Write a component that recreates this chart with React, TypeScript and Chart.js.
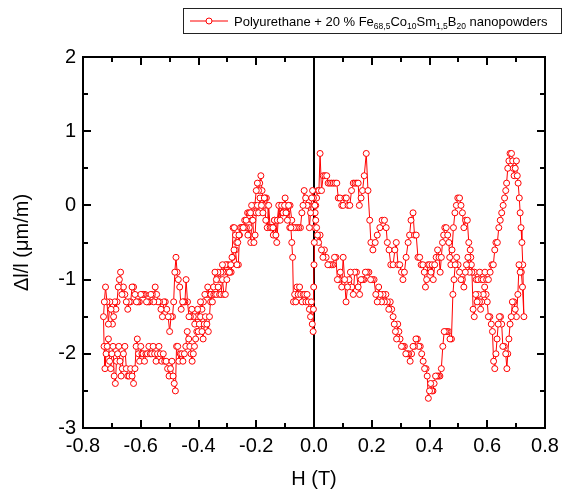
import React, { useEffect, useRef } from "react";
import { Chart, registerables } from "chart.js";

Chart.register(...registerables);

// Magnetostriction loop, field H (T) vs. strain Δl/l (µm/m).
// Each branch is a list of [H, Δl/l] readings in measurement order.
const branchUpperRight: [number, number][] = [
  [0.002, -0.3], [0.004, -0.1], [0.006, 0.0], [0.009, 0.1], [0.013, 0.2], [0.017, 0.2], [0.021, 0.7],
  [0.026, 0.2], [0.032, 0.4], [0.038, 0.4], [0.044, 0.4], [0.049, 0.3], [0.055, 0.3], [0.061, 0.3],
  [0.067, 0.3], [0.073, 0.3], [0.079, 0.3], [0.084, 0.1], [0.09, 0.1], [0.096, 0.0], [0.101, 0.0],
  [0.107, 0.1], [0.112, 0.1], [0.118, 0.0], [0.124, 0.0], [0.13, 0.2], [0.136, 0.3], [0.142, 0.3],
  [0.148, 0.3], [0.153, 0.3], [0.157, 0.0], [0.163, 0.1], [0.168, 0.2], [0.174, 0.4], [0.181, 0.7],
  [0.187, 0.2], [0.193, -0.2], [0.197, -0.5], [0.204, -0.6], [0.212, -0.5], [0.219, -0.4], [0.228, -0.3],
  [0.236, -0.2], [0.244, -0.2], [0.25, -0.3], [0.254, -0.5], [0.26, -0.6], [0.266, -0.8], [0.274, -0.8],
  [0.28, -0.6], [0.285, -0.5], [0.291, -0.8], [0.297, -0.8], [0.303, -0.9], [0.308, -1.0], [0.313, -0.9],
  [0.319, -0.7], [0.326, -0.5], [0.331, -0.4], [0.336, -0.2], [0.343, -0.1], [0.348, -0.4], [0.354, -0.4],
  [0.36, -0.7], [0.366, -0.7], [0.371, -0.8], [0.377, -0.8], [0.382, -0.9], [0.386, -1.1], [0.39, -1.0],
  [0.395, -0.8], [0.4, -0.8], [0.405, -0.9], [0.409, -0.8], [0.413, -1.0], [0.418, -0.8], [0.423, -0.7],
  [0.428, -0.6], [0.433, -0.7], [0.437, -0.9], [0.441, -0.7], [0.445, -0.5], [0.449, -0.4], [0.453, -0.3],
  [0.458, -0.3], [0.463, -0.4], [0.467, -0.5], [0.47, -0.7], [0.474, -0.8], [0.478, -0.6], [0.483, -0.3],
  [0.488, -0.1], [0.493, 0.0], [0.498, 0.1], [0.504, 0.1], [0.509, 0.0], [0.514, -0.1], [0.519, -0.3],
  [0.525, -0.2], [0.531, -0.2], [0.536, -0.5], [0.541, -0.6], [0.545, -0.8], [0.55, -0.9], [0.556, -0.9],
  [0.562, -1.0], [0.568, -1.0], [0.574, -0.9], [0.58, -1.0], [0.586, -1.0], [0.592, -0.9], [0.598, -1.0],
  [0.604, -1.0], [0.61, -0.9], [0.616, -0.8], [0.621, -0.8], [0.626, -0.6], [0.63, -0.5], [0.635, -0.5],
  [0.64, -0.3], [0.645, -0.2], [0.65, -0.1], [0.655, 0.0], [0.66, 0.1], [0.664, 0.2], [0.667, 0.3],
  [0.671, 0.5], [0.675, 0.6], [0.679, 0.7], [0.684, 0.7], [0.688, 0.6], [0.69, 0.5], [0.693, 0.4],
  [0.697, 0.5], [0.701, 0.6], [0.704, 0.4], [0.707, 0.3], [0.711, 0.1], [0.714, -0.1], [0.717, -0.3],
  [0.72, -0.5], [0.723, -0.8], [0.727, -1.5],
];

const branchLowerRight: [number, number][] = [
  [0.722, -1.1], [0.718, -0.9], [0.714, -0.9], [0.71, -0.8], [0.706, -1.2], [0.701, -1.5], [0.697, -1.4],
  [0.692, -1.3], [0.687, -1.3], [0.683, -1.5], [0.679, -1.6], [0.675, -1.8], [0.671, -2.0], [0.668, -2.2],
  [0.664, -2.0], [0.659, -1.9], [0.654, -1.9], [0.65, -1.6], [0.646, -1.5], [0.642, -1.5], [0.638, -1.6],
  [0.634, -1.8], [0.63, -2.0], [0.626, -2.2], [0.622, -2.1], [0.618, -1.7], [0.614, -1.6], [0.609, -1.5],
  [0.604, -1.5], [0.6, -1.3], [0.596, -1.2], [0.591, -1.1], [0.586, -1.2], [0.581, -1.3], [0.577, -1.4],
  [0.573, -1.3], [0.569, -1.2], [0.565, -1.3], [0.56, -1.2], [0.555, -1.5], [0.551, -1.4], [0.547, -0.9],
  [0.543, -0.7], [0.538, -0.9], [0.533, -0.7], [0.528, -0.8], [0.524, -0.9], [0.519, -1.1], [0.514, -1.0],
  [0.509, -1.0], [0.504, -0.9], [0.499, -0.8], [0.494, -0.7], [0.489, -0.8], [0.485, -1.0], [0.481, -1.2],
  [0.476, -1.8], [0.471, -1.8], [0.466, -1.7], [0.461, -1.7], [0.456, -1.7], [0.451, -1.7], [0.446, -1.9],
  [0.441, -2.2], [0.436, -2.3], [0.431, -2.3], [0.426, -2.3], [0.421, -2.3], [0.416, -2.4], [0.412, -2.5],
  [0.408, -2.5], [0.404, -2.4], [0.4, -2.5], [0.396, -2.6], [0.392, -2.3], [0.388, -2.2], [0.383, -2.2],
  [0.378, -2.1], [0.373, -2.0], [0.368, -1.9], [0.363, -1.9], [0.358, -1.8], [0.353, -1.8], [0.348, -1.9],
  [0.343, -1.9], [0.338, -2.0], [0.333, -2.1], [0.328, -2.0], [0.323, -2.0], [0.318, -2.0], [0.313, -1.9],
  [0.308, -1.9], [0.303, -1.9], [0.298, -1.8], [0.294, -1.7], [0.29, -1.6], [0.286, -1.8], [0.282, -1.7],
  [0.278, -1.6], [0.274, -1.5], [0.269, -1.4], [0.264, -1.3], [0.259, -1.4], [0.254, -1.3], [0.249, -1.2],
  [0.244, -1.3], [0.239, -1.2], [0.234, -1.3], [0.229, -1.2], [0.224, -1.1], [0.219, -1.3], [0.214, -1.2],
  [0.208, -1.0], [0.202, -1.0], [0.196, -1.0], [0.19, -0.9], [0.184, -0.9], [0.178, -0.9], [0.173, -1.0],
  [0.168, -1.0], [0.163, -1.0], [0.158, -1.2], [0.153, -1.1], [0.147, -0.9], [0.141, -0.9], [0.136, -1.2],
  [0.131, -1.1], [0.126, -0.9], [0.121, -1.0], [0.116, -1.1], [0.111, -1.3], [0.106, -1.0], [0.101, -0.7],
  [0.096, -1.1], [0.091, -0.9], [0.086, -1.0], [0.081, -1.0], [0.076, -0.7], [0.071, -0.7], [0.066, -0.8],
  [0.06, -0.8], [0.054, -0.8], [0.048, -0.8], [0.042, -0.7], [0.036, -0.6], [0.031, -0.7], [0.026, -0.6],
  [0.021, -0.4], [0.016, -0.5], [0.012, -0.4], [0.009, -0.3], [0.006, -0.2], [0.003, 0.0],
];

const branchUpperLeft: [number, number][] = [
  [-0.002, 0.1], [-0.005, 0.2], [-0.008, 0.1], [-0.012, -0.1], [-0.016, -0.3], [-0.02, 0.0], [-0.024, 0.0],
  [-0.029, 0.1], [-0.034, 0.2], [-0.038, 0.0], [-0.042, -0.1], [-0.047, -0.3], [-0.053, -0.3], [-0.059, -0.3],
  [-0.065, -0.3], [-0.071, -0.3], [-0.077, -0.2], [-0.083, 0.0], [-0.089, 0.0], [-0.094, -0.1], [-0.1, 0.1],
  [-0.105, 0.0], [-0.11, -0.1], [-0.115, 0.0], [-0.12, 0.0], [-0.124, -0.2], [-0.129, -0.5], [-0.133, -0.4],
  [-0.137, -0.2], [-0.141, -0.4], [-0.146, -0.3], [-0.151, -0.3], [-0.156, -0.3], [-0.16, 0.0], [-0.165, 0.1],
  [-0.17, 0.1], [-0.175, 0.0], [-0.18, 0.2], [-0.184, 0.4], [-0.188, 0.3], [-0.192, 0.2], [-0.196, 0.3],
  [-0.2, 0.2], [-0.205, 0.0], [-0.21, -0.1], [-0.215, -0.2], [-0.219, -0.5], [-0.224, -0.3], [-0.229, -0.4],
  [-0.234, -0.3], [-0.24, -0.3], [-0.246, -0.3], [-0.252, -0.3], [-0.258, -0.4], [-0.262, -0.8], [-0.267, -0.8],
  [-0.272, -0.6], [-0.277, -0.6], [-0.282, -0.7], [-0.287, -0.9], [-0.292, -0.9], [-0.297, -0.8], [-0.302, -0.8],
  [-0.307, -0.8], [-0.312, -0.9], [-0.317, -0.8], [-0.322, -0.9], [-0.327, -1.0], [-0.333, -0.9], [-0.338, -1.0],
  [-0.343, -0.9], [-0.348, -1.1], [-0.353, -1.2], [-0.358, -1.3], [-0.363, -1.2], [-0.368, -1.1], [-0.373, -1.2],
  [-0.378, -1.2], [-0.383, -1.3], [-0.388, -1.4], [-0.393, -1.3], [-0.398, -1.5], [-0.403, -1.4], [-0.408, -1.5],
  [-0.413, -1.6], [-0.418, -1.5], [-0.423, -1.4], [-0.428, -1.5], [-0.433, -1.5], [-0.438, -1.3], [-0.443, -1.0],
  [-0.447, -1.3], [-0.451, -1.3], [-0.455, -1.3], [-0.46, -1.4], [-0.465, -1.1], [-0.47, -1.0], [-0.474, -0.9],
  [-0.478, -0.7], [-0.482, -0.9], [-0.486, -1.3], [-0.49, -1.5], [-0.495, -1.5], [-0.5, -1.7], [-0.505, -1.5],
  [-0.51, -1.4], [-0.515, -1.3], [-0.52, -1.3], [-0.525, -1.5], [-0.53, -1.4], [-0.535, -1.3], [-0.54, -1.3],
  [-0.545, -1.2], [-0.55, -1.1], [-0.555, -1.3], [-0.56, -1.2], [-0.565, -1.2], [-0.57, -1.3], [-0.575, -1.3],
  [-0.58, -1.3], [-0.585, -1.2], [-0.59, -1.2], [-0.595, -1.2], [-0.6, -1.2], [-0.605, -1.3], [-0.61, -1.3],
  [-0.615, -1.3], [-0.62, -1.2], [-0.625, -1.1], [-0.63, -1.1], [-0.635, -1.3], [-0.64, -1.3], [-0.645, -1.4],
  [-0.65, -1.3], [-0.655, -1.2], [-0.66, -1.1], [-0.665, -1.2], [-0.67, -0.9], [-0.674, -1.0], [-0.678, -1.1],
  [-0.682, -1.3], [-0.686, -1.4], [-0.69, -1.3], [-0.694, -1.5], [-0.698, -1.6], [-0.703, -1.4], [-0.707, -1.3],
  [-0.712, -1.6], [-0.717, -1.3], [-0.722, -1.1], [-0.726, -1.3], [-0.729, -1.5],
];

const branchLowerLeft: [number, number][] = [
  [-0.727, -1.9], [-0.724, -2.2], [-0.72, -2.0], [-0.716, -1.9], [-0.712, -1.8], [-0.708, -2.1], [-0.704, -2.2],
  [-0.7, -2.0], [-0.696, -1.9], [-0.692, -2.3], [-0.688, -2.4], [-0.684, -2.1], [-0.68, -2.0], [-0.676, -1.9],
  [-0.672, -2.1], [-0.668, -2.3], [-0.664, -2.2], [-0.66, -2.0], [-0.655, -1.9], [-0.65, -2.2], [-0.645, -2.3],
  [-0.64, -2.3], [-0.635, -2.2], [-0.63, -2.3], [-0.625, -2.4], [-0.62, -2.2], [-0.616, -1.9], [-0.612, -1.8],
  [-0.608, -2.0], [-0.604, -2.1], [-0.6, -1.9], [-0.596, -2.0], [-0.592, -2.0], [-0.587, -2.1], [-0.582, -2.0],
  [-0.577, -2.0], [-0.572, -1.9], [-0.567, -2.0], [-0.562, -2.0], [-0.557, -1.9], [-0.552, -2.0], [-0.547, -2.1],
  [-0.542, -2.0], [-0.537, -1.9], [-0.532, -2.0], [-0.527, -2.1], [-0.522, -2.0], [-0.517, -2.1], [-0.512, -2.1],
  [-0.507, -2.2], [-0.502, -2.3], [-0.497, -2.2], [-0.492, -2.1], [-0.488, -2.3], [-0.484, -2.4], [-0.48, -2.5],
  [-0.476, -1.9], [-0.472, -1.9], [-0.468, -2.1], [-0.463, -2.0], [-0.458, -2.0], [-0.454, -2.1], [-0.449, -2.0],
  [-0.444, -1.9], [-0.439, -1.7], [-0.434, -1.8], [-0.43, -1.9], [-0.426, -2.0], [-0.422, -2.1], [-0.418, -2.0],
  [-0.414, -1.9], [-0.41, -1.8], [-0.406, -1.7], [-0.401, -1.7], [-0.397, -1.6], [-0.393, -1.5], [-0.388, -1.7],
  [-0.384, -1.8], [-0.38, -1.6], [-0.376, -1.5], [-0.371, -1.6], [-0.366, -1.7], [-0.362, -1.5], [-0.357, -1.2],
  [-0.352, -1.3], [-0.347, -1.2], [-0.342, -1.2], [-0.337, -1.2], [-0.332, -1.1], [-0.327, -1.2], [-0.322, -1.2],
  [-0.317, -1.0], [-0.312, -1.2], [-0.307, -1.2], [-0.302, -1.0], [-0.298, -0.9], [-0.293, -0.9], [-0.288, -0.8],
  [-0.284, -0.7], [-0.28, -0.3], [-0.276, -0.3], [-0.272, -0.4], [-0.268, -0.5], [-0.264, -0.5], [-0.26, -0.4],
  [-0.255, -0.3], [-0.25, -0.3], [-0.245, -0.3], [-0.24, -0.2], [-0.235, -0.2], [-0.23, -0.1], [-0.225, -0.1],
  [-0.22, -0.1], [-0.216, 0.0], [-0.212, -0.2], [-0.208, -0.5], [-0.204, -0.4], [-0.2, -0.1], [-0.196, 0.0],
  [-0.192, -0.1], [-0.187, 0.1], [-0.182, 0.0], [-0.177, -0.1], [-0.172, 0.1], [-0.167, -0.2], [-0.162, -0.3],
  [-0.157, 0.0], [-0.152, -0.3], [-0.147, -0.3], [-0.142, -0.3], [-0.137, -0.2], [-0.132, -0.4], [-0.127, -0.2],
  [-0.122, 0.0], [-0.117, -0.2], [-0.112, 0.0], [-0.107, -0.1], [-0.102, 0.0], [-0.097, -0.1], [-0.092, -0.2],
  [-0.088, 0.0], [-0.084, -0.3], [-0.08, -0.3], [-0.077, -0.5], [-0.074, -0.7], [-0.071, -1.3], [-0.067, -1.2],
  [-0.063, -1.3], [-0.059, -1.1], [-0.055, -1.2], [-0.05, -1.1], [-0.046, -1.2], [-0.041, -1.3], [-0.037, -1.2],
  [-0.032, -1.2], [-0.028, -1.3], [-0.024, -1.2], [-0.02, -1.3], [-0.016, -1.4], [-0.012, -1.5], [-0.009, -1.3],
  [-0.006, -1.6], [-0.003, -1.7], [-0.002, -1.4], [-0.001, -1.1], [0.0, -0.8], [0.001, -0.5],
];

const xMajorTicks = [-0.8, -0.6, -0.4, -0.2, 0, 0.2, 0.4, 0.6, 0.8];
const xMinorTicks = [-0.7, -0.5, -0.3, -0.1, 0.1, 0.3, 0.5, 0.7];
const yMajorTicks = [-3, -2, -1, 0, 1, 2];
const yMinorTicks = [-2.5, -1.5, -0.5, 0.5, 1.5];

const seriesColor = "#ff0000";
const FONT = "'Liberation Sans', Arial, Helvetica, sans-serif";

const legendParts: { text: string; sub?: boolean }[] = [
  { text: "Polyurethane + 20 % Fe" },
  { text: "68,5", sub: true },
  { text: "Co" },
  { text: "10", sub: true },
  { text: "Sm" },
  { text: "1,5", sub: true },
  { text: "B" },
  { text: "20", sub: true },
  { text: " nanopowders" },
];

const axesPlugin = {
  id: "axesFrame",
  beforeDatasetsDraw(chart: any) {
    const { ctx, chartArea: a, scales } = chart;
    const x0 = Math.round(scales.x.getPixelForValue(0));
    ctx.save();
    ctx.strokeStyle = "#000";
    ctx.lineWidth = 2;
    ctx.beginPath();
    ctx.moveTo(x0, a.top);
    ctx.lineTo(x0, a.bottom);
    ctx.stroke();
    ctx.restore();
  },
  afterDraw(chart: any) {
    const { ctx, chartArea: a, scales } = chart;
    const xs = scales.x;
    const ys = scales.y;
    ctx.save();
    ctx.strokeStyle = "#000";
    ctx.lineWidth = 2;
    ctx.strokeRect(a.left, a.top, a.right - a.left, a.bottom - a.top);

    const tick = (x1: number, y1: number, x2: number, y2: number) => {
      ctx.beginPath();
      ctx.moveTo(x1, y1);
      ctx.lineTo(x2, y2);
      ctx.stroke();
    };
    const major = 8;
    const minor = 5;
    xMajorTicks.forEach((v) => {
      const p = Math.round(xs.getPixelForValue(v));
      tick(p, a.bottom, p, a.bottom - major);
      tick(p, a.top, p, a.top + major);
    });
    xMinorTicks.forEach((v) => {
      const p = Math.round(xs.getPixelForValue(v));
      tick(p, a.bottom, p, a.bottom - minor);
      tick(p, a.top, p, a.top + minor);
    });
    yMajorTicks.forEach((v) => {
      const p = Math.round(ys.getPixelForValue(v));
      tick(a.left, p, a.left + major, p);
      tick(a.right, p, a.right - major, p);
    });
    yMinorTicks.forEach((v) => {
      const p = Math.round(ys.getPixelForValue(v));
      tick(a.left, p, a.left + minor, p);
      tick(a.right, p, a.right - minor, p);
    });

    // axis titles
    ctx.fillStyle = "#000";
    ctx.font = `20px ${FONT}`;
    ctx.textAlign = "center";
    ctx.textBaseline = "middle";
    ctx.fillText("H (T)", (a.left + a.right) / 2, 479);
    ctx.save();
    ctx.translate(22, (a.top + a.bottom) / 2);
    ctx.rotate(-Math.PI / 2);
    ctx.fillText("Δl/l (μm/m)", 0, 0);
    ctx.restore();

    // legend box
    ctx.lineWidth = 1;
    ctx.strokeStyle = "#222";
    ctx.strokeRect(183.5, 8.5, 378, 25);
    ctx.strokeStyle = seriesColor;
    ctx.beginPath();
    ctx.moveTo(190, 21);
    ctx.lineTo(228, 21);
    ctx.stroke();
    ctx.beginPath();
    ctx.arc(209, 21, 3, 0, Math.PI * 2);
    ctx.fillStyle = "#fff";
    ctx.fill();
    ctx.stroke();

    ctx.fillStyle = "#000";
    ctx.textAlign = "left";
    ctx.textBaseline = "alphabetic";
    let tx = 234;
    legendParts.forEach((part) => {
      ctx.font = part.sub ? `8.5px ${FONT}` : `13px ${FONT}`;
      ctx.fillText(part.text, tx, part.sub ? 29 : 26);
      tx += ctx.measureText(part.text).width;
    });
    ctx.restore();
  },
};

export default function App() {
  const canvasRef = useRef<HTMLCanvasElement | null>(null);

  useEffect(() => {
    if (!canvasRef.current) return;
    const points = [
      ...branchUpperRight,
      ...branchLowerRight,
      ...branchUpperLeft,
      ...branchLowerLeft,
    ].map(([x, y]) => ({ x, y }));

    const chart = new Chart(canvasRef.current, {
      type: "scatter",
      data: {
        datasets: [
          {
            label: "Polyurethane + 20 % Fe68,5Co10Sm1,5B20 nanopowders",
            data: points,
            showLine: true,
            borderColor: seriesColor,
            borderWidth: 1,
            pointRadius: 3,
            pointBorderWidth: 1,
            pointBorderColor: seriesColor,
            pointBackgroundColor: "#ffffff",
            tension: 0,
          },
        ],
      },
      options: {
        animation: false,
        responsive: false,
        layout: { padding: { left: 0, top: 57, right: 21, bottom: 0 } },
        plugins: { legend: { display: false }, tooltip: { enabled: false } },
        scales: {
          x: {
            type: "linear",
            min: -0.8,
            max: 0.8,
            grid: { display: false, drawTicks: false },
            border: { display: false },
            afterFit: (s: any) => {
              s.height = 62;
            },
            afterBuildTicks: (s: any) => {
              s.ticks = xMajorTicks.map((v) => ({ value: v }));
            },
            ticks: {
              padding: 6,
              color: "#000",
              font: { family: FONT, size: 20 },
              maxRotation: 0,
              callback: (v: any) => Number(v).toFixed(1),
            },
          },
          y: {
            type: "linear",
            min: -3,
            max: 2,
            grid: { display: false, drawTicks: false },
            border: { display: false },
            afterFit: (s: any) => {
              s.width = 83;
            },
            afterBuildTicks: (s: any) => {
              s.ticks = yMajorTicks.map((v) => ({ value: v }));
            },
            ticks: {
              padding: 7,
              color: "#000",
              font: { family: FONT, size: 20 },
              callback: (v: any) => String(v),
            },
          },
        },
      },
      plugins: [axesPlugin],
    });
    return () => chart.destroy();
  }, []);

  return (
    <div style={{ position: "fixed", left: 0, top: 0, width: 566, height: 490, background: "#fff" }}>
      <canvas ref={canvasRef} width={566} height={490} style={{ display: "block" }} />
    </div>
  );
}
